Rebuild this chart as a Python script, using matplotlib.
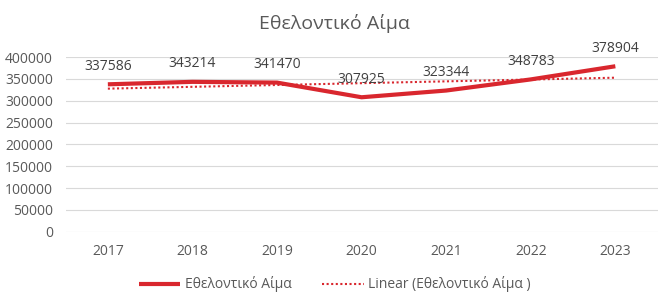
import matplotlib
matplotlib.use('Agg')
import matplotlib.pyplot as plt
import numpy as np

years = ['2017', '2018', '2019', '2020', '2021', '2022', '2023']
values = [337586, 343214, 341470, 307925, 323344, 348783, 378904]
yticks = [0, 50000, 100000, 150000, 200000, 250000, 300000, 350000, 400000]

plt.rcParams['font.family'] = ['Open Sans', 'DejaVu Sans']
grey = '#595959'
red = '#D9272E'

fig = plt.figure(figsize=(6.69, 3.05), dpi=100)
ax = fig.add_axes([0.098, 0.24, 0.885, 0.573])

x = np.arange(len(years))
ax.plot(x, values, color=red, linewidth=3, label='Εθελοντικό Αίμα', solid_capstyle='butt')

# linear trendline
k, b = np.polyfit(x, values, 1)
ax.plot(x, k * x + b, color=red, linewidth=1.5, linestyle=(0, (1, 1.2)),
        label='Linear (Εθελοντικό Αίμα )')

for xi, v in zip(x, values):
    ax.annotate(str(v), (xi, v), xytext=(0, 7.5), textcoords='offset points',
                ha='center', va='bottom', fontsize=10, color='#404040')

ax.set_xlim(-0.5, len(years) - 0.5)
ax.set_ylim(0, 400000)
ax.set_yticks(yticks)
ax.set_yticklabels([str(t) for t in yticks])
ax.set_xticks(x)
ax.set_xticklabels(years)
ax.tick_params(axis='both', length=0, labelsize=10, labelcolor=grey)
ax.tick_params(axis='x', pad=9)
ax.tick_params(axis='y', pad=9)
ax.grid(axis='y', color='#D9D9D9', linewidth=0.8)
ax.set_axisbelow(True)
for s in ax.spines.values():
    s.set_visible(False)

fig.suptitle('Εθελοντικό Αίμα', y=0.955, fontsize=14, color=grey)
fig.legend(loc='lower center', bbox_to_anchor=(0.5, 0.0), ncol=2, frameon=False,
           fontsize=10, labelcolor=grey, handlelength=3, handletextpad=0.3,
           columnspacing=2.2)

fig.savefig('out.png', dpi=100)
